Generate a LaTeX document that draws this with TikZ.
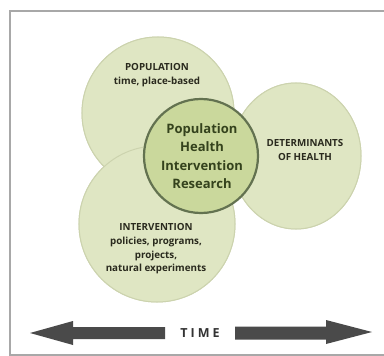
\documentclass[tikz,border=0pt]{standalone}
\usepackage{fontspec}
\setmainfont{Open Sans}
\definecolor{outerfill}{HTML}{DFE6C3}
\definecolor{outeredge}{HTML}{CCD3AE}
\definecolor{innerfill}{HTML}{CAD89C}
\definecolor{inneredge}{HTML}{637250}
\definecolor{txt}{HTML}{2A2A1E}
\definecolor{innertxt}{HTML}{34421C}
\definecolor{arrowcol}{HTML}{4A4A4A}
\definecolor{timetxt}{HTML}{333333}
\definecolor{framecol}{HTML}{A8A8A8}
\begin{document}
\begin{tikzpicture}[x=1pt,y=-1pt,
  outercircle/.style={fill=outerfill,draw=outeredge,line width=1pt},
  outertext/.style={align=center,text=txt,font=\bfseries\fontsize{9.8}{13.7}\selectfont,inner sep=0pt},
  innertext/.style={align=center,text=innertxt,font=\bfseries\fontsize{13}{18.5}\selectfont,inner sep=0pt},
  timearrow/.style={fill=arrowcol,draw=none}]
\useasboundingbox (0,0) rectangle (384,356);
\begin{scope}
\clip (0,0) rectangle (384,356);
\fill[white] (0,0) rectangle (384,356);
\draw[framecol,line width=2.5pt] (10,11) rectangle (395,355);
\end{scope}
% circles
\fill[outercircle] (158,113) circle (76);
\fill[outercircle] (296,156) ellipse (65 and 73);
\fill[outercircle] (157,224) circle (78);
\draw[outercircle] (158,113) circle (76);
\draw[outercircle] (296,156) ellipse (65 and 73);
\draw[outercircle] (157,224) circle (78);
\node[circle,minimum size=114pt,fill=innerfill,draw=inneredge,line width=2.2pt,inner sep=0pt] (core) at (201,156) {};
% texts
\node[outertext] (pop) at (157,75) {POPULATION\\time, place-based};
\node[outertext] (det) at (305,150) {DETERMINANTS\\OF HEALTH};
\node[outertext] (int) at (156,249) {INTERVENTION\\policies, programs,\\projects,\\natural experiments};
\node[innertext] (phir) at (202,156) {Population\\Health\\Intervention\\Research};
% time arrow
\node[inner sep=0pt,text=timetxt,font=\bfseries\fontsize{12.5}{12.5}\selectfont\addfontfeature{LetterSpace=24}] (time) at (200,333) {TIME};
\fill[timearrow] (30,333) -- (73,321) -- (73,327) -- (165,327) -- (165,339) -- (73,339) -- (73,345) -- cycle;
\fill[timearrow] (372,332) -- (326,320) -- (326,326.5) -- (235,326.5) -- (235,339.5) -- (326,339.5) -- (326,344) -- cycle;
\end{tikzpicture}
\end{document}
